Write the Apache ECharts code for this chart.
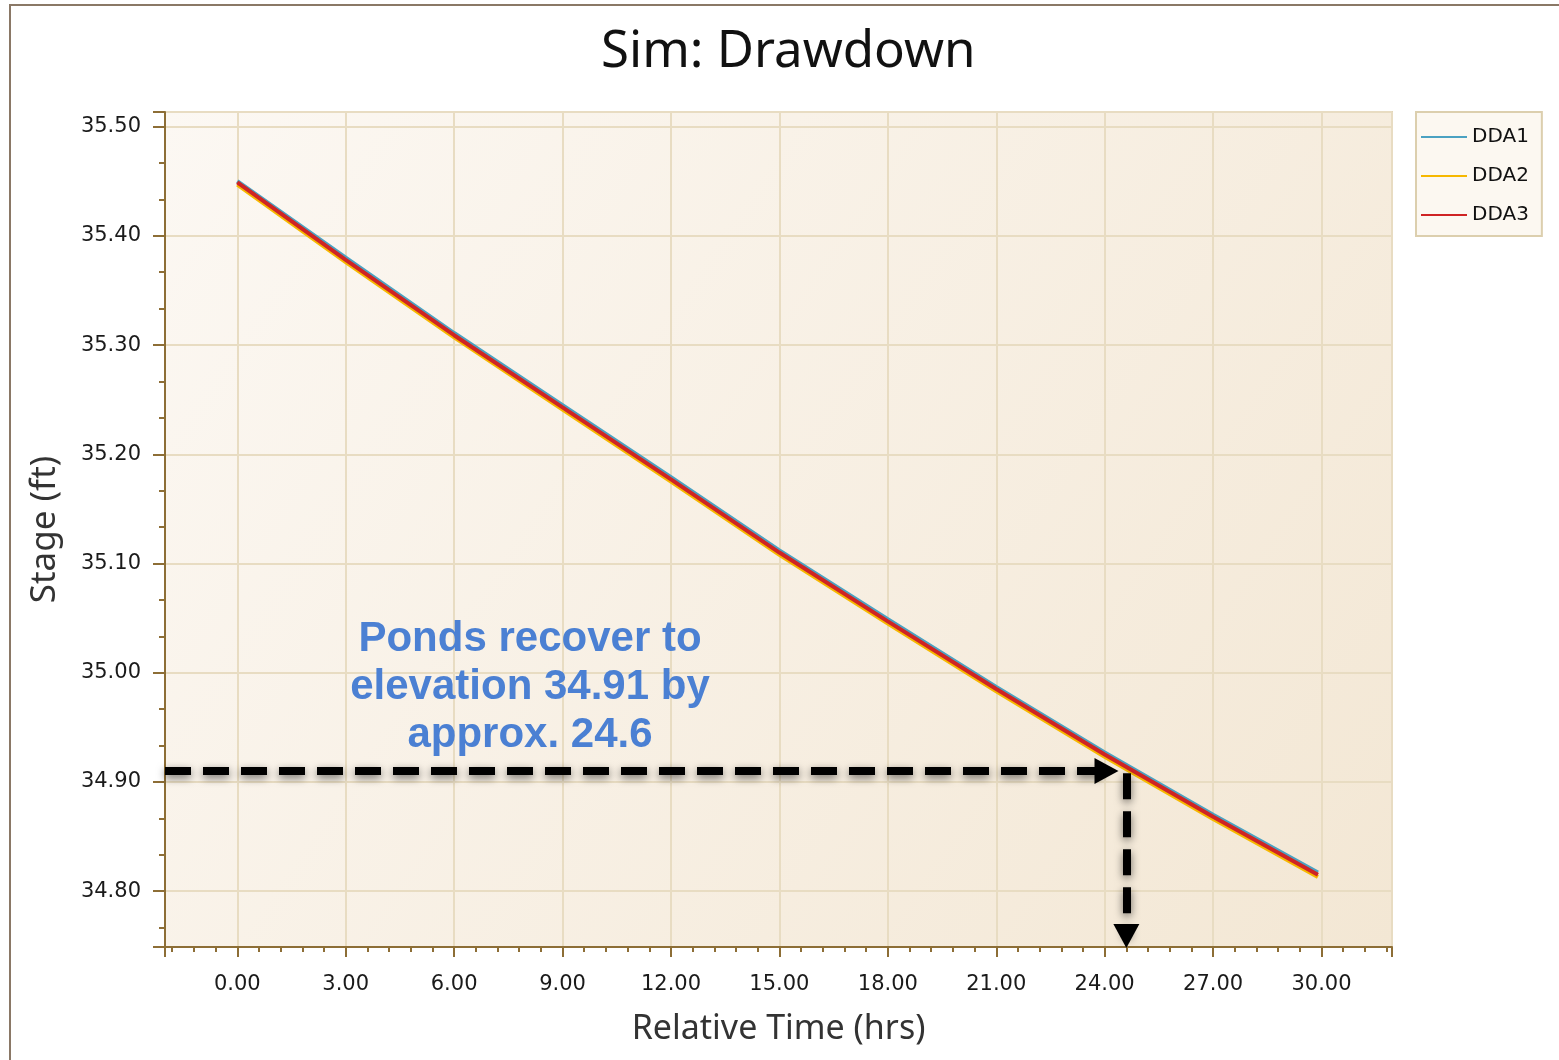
<!DOCTYPE html>
<html>
<head>
<meta charset="utf-8">
<title>Sim: Drawdown</title>
<script src="https://cdn.jsdelivr.net/npm/echarts@6/dist/echarts.min.js"></script>
<style>
  html, body { margin: 0; padding: 0; background: #ffffff; }
  #chart { width: 1559px; height: 1060px; }
</style>
</head>
<body>
<div id="chart"></div>
<script>
// Relative time (hrs) of the simulated stage samples
const hours = [0, 3, 6, 9, 12, 15, 18, 21, 24, 27, 29.9];

// Simulated pond stage (ft) for each drawdown area
const dda1 = [35.450, 35.380, 35.311, 35.245, 35.179, 35.112, 35.049, 34.987, 34.927, 34.870, 34.817];
const dda2 = [35.447, 35.376, 35.307, 35.241, 35.175, 35.108, 35.045, 34.983, 34.923, 34.866, 34.813];
const dda3 = [35.449, 35.378, 35.309, 35.243, 35.177, 35.110, 35.047, 34.985, 34.925, 34.868, 34.815];

const seriesNames = ['DDA1', 'DDA2', 'DDA3'];

// Recovery point called out in the note
const recoverStage = 34.91;
const recoverHour = 24.6;

// Axis extents
const xRange = [-2.0, 31.95];
const yRange = [34.7488, 35.5134];

const noteLines = ['Ponds recover to', 'elevation ' + recoverStage.toFixed(2) + ' by', 'approx. ' + recoverHour];

const pairs = arr => hours.map((h, i) => [h, arr[i]]);

const colors = ['#4ba2c2', '#f6b800', '#cf2424'];
const axisBrown = '#8d6e36';
const gridTan = '#e8dcc2';

const chart = echarts.init(document.getElementById('chart'), null, { renderer: 'canvas' });

const arrowStyle = {
  color: '#000000',
  width: 8,
  type: [26, 12],
  shadowBlur: 8,
  shadowColor: 'rgba(0,0,0,0.55)',
  shadowOffsetY: 3
};

chart.setOption({
  animation: false,
  title: {
    text: 'Sim: Drawdown',
    left: 596,
    top: 22,
    textStyle: { fontFamily: 'Noto Sans', fontSize: 51, fontWeight: 'normal', color: '#111111' }
  },
  legend: {
    data: seriesNames,
    orient: 'vertical',
    left: 1416,
    top: 112,
    width: 127,
    padding: [15, 13, 11, 5],
    itemWidth: 46,
    itemHeight: 2,
    itemGap: 19,
    icon: 'rect',
    backgroundColor: '#fcf8f1',
    borderColor: '#dccfae',
    borderWidth: 2,
    textStyle: { fontFamily: 'DejaVu Sans', fontSize: 20, color: '#111111', lineHeight: 20 }
  },
  grid: {
    left: 165,
    top: 112,
    right: 167,
    bottom: 113,
    show: true,
    borderColor: '#e2d5b8',
    borderWidth: 2,
    backgroundColor: new echarts.graphic.LinearGradient(0, 0, 1, 1, [
      { offset: 0, color: '#fcf8f3' },
      { offset: 1, color: '#f3e7d4' }
    ])
  },
  xAxis: {
    type: 'value',
    min: xRange[0],
    max: xRange[1],
    splitNumber: 11,
    name: 'Relative Time (hrs)',
    nameLocation: 'middle',
    nameGap: 65,
    nameTextStyle: { fontFamily: 'Noto Sans', fontSize: 34, color: '#333333' },
    axisLine: { show: true, onZero: false, lineStyle: { color: axisBrown, width: 2 } },
    axisTick: { show: true, length: 10, lineStyle: { color: axisBrown, width: 2 } },
    minorTick: { show: true, splitNumber: 5, length: 5, lineStyle: { color: axisBrown, width: 2 } },
    axisLabel: {
      margin: 27,
      showMinLabel: false,
      showMaxLabel: false,
      fontFamily: 'DejaVu Sans',
      fontSize: 21,
      color: '#1a1a1a',
      formatter: v => v.toFixed(2)
    },
    splitLine: { show: true, lineStyle: { color: gridTan, width: 2 } }
  },
  yAxis: {
    type: 'value',
    min: yRange[0],
    max: yRange[1],
    splitNumber: 8,
    name: 'Stage (ft)',
    nameLocation: 'middle',
    nameGap: 102,
    nameTextStyle: { fontFamily: 'Noto Sans', fontSize: 35, color: '#333333' },
    axisLine: { show: true, onZero: false, lineStyle: { color: axisBrown, width: 2 } },
    axisTick: { show: true, length: 12, lineStyle: { color: axisBrown, width: 2 } },
    minorTick: { show: true, splitNumber: 3, length: 6, lineStyle: { color: axisBrown, width: 2 } },
    axisLabel: {
      margin: 24,
      showMinLabel: false,
      showMaxLabel: false,
      fontFamily: 'DejaVu Sans',
      fontSize: 21,
      color: '#1a1a1a',
      formatter: v => v.toFixed(2)
    },
    splitLine: { show: true, lineStyle: { color: gridTan, width: 2 } }
  },
  series: [
    {
      name: seriesNames[0],
      type: 'line',
      data: pairs(dda1),
      showSymbol: false,
      color: colors[0],
      lineStyle: { width: 4, color: colors[0] }
    },
    {
      name: seriesNames[1],
      type: 'line',
      data: pairs(dda2),
      showSymbol: false,
      color: colors[1],
      lineStyle: { width: 4, color: colors[1] }
    },
    {
      name: seriesNames[2],
      type: 'line',
      data: pairs(dda3),
      showSymbol: false,
      color: colors[2],
      lineStyle: { width: 4, color: colors[2] },
      markLine: {
        silent: true,
        symbol: ['none', 'triangle'],
        symbolSize: [26, 24],
        label: { show: false },
        lineStyle: arrowStyle,
        emphasis: { disabled: true },
        data: [
          // horizontal arrow along the recovery elevation
          [{ coord: [xRange[0], recoverStage] }, { coord: [recoverHour - 0.55, recoverStage] }],
          // vertical arrow down to the time axis (head stops at the axis line)
          [{ coord: [recoverHour, recoverStage - 0.002] }, { coord: [recoverHour, yRange[0] + 0.010] }]
        ]
      }
    }
  ],
  graphic: [
    {
      type: 'rect',
      silent: true,
      z: -10,
      shape: { x: 10, y: 5, width: 1600, height: 1100 },
      style: { fill: 'none', stroke: '#8a7866', lineWidth: 2 }
    },
    {
      type: 'text',
      silent: true,
      z: 100,
      x: 530,
      y: 615,
      style: {
        text: noteLines.join('\n'),
        align: 'center',
        verticalAlign: 'top',
        font: 'bold 42px "Liberation Sans"',
        lineHeight: 48,
        fill: '#4b80d3'
      }
    }
  ]
});
</script>
</body>
</html>
